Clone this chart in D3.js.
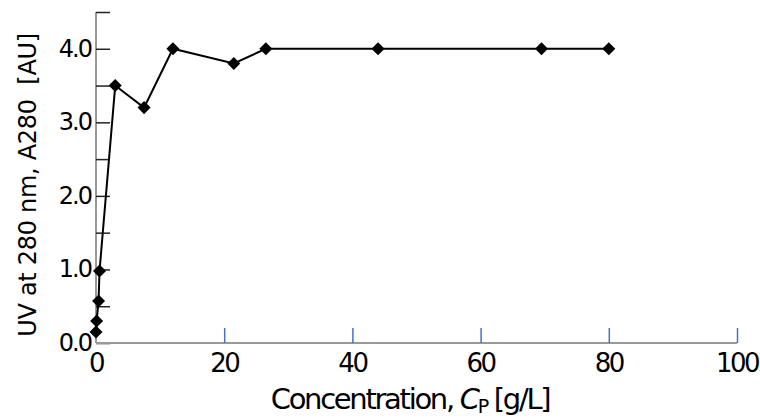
<!DOCTYPE html>
<html>
<head>
<meta charset="utf-8">
<script src="https://cdn.jsdelivr.net/npm/d3@7"></script>
<style>
  body { margin: 0; background: #fff; }
  text { font-family: "DejaVu Sans", Verdana, sans-serif; fill: #000; }
</style>
</head>
<body>
<svg width="760" height="419"></svg>
<script>
const width = 760;
const height = 419;

// concentration Cp [g/L] and absorbance A280 [AU]
const conc = [0, 0.1, 0.4, 0.55, 3, 7.5, 12, 21.5, 26.5, 44, 69.5, 80];
const uv = [0.15, 0.3, 0.57, 0.98, 3.5, 3.2, 4.0, 3.8, 4.0, 4.0, 4.0, 4.0];
const xTicks = [0, 20, 40, 60, 80, 100];
const yTicks = [0, 0.5, 1, 1.5, 2, 2.5, 3, 3.5, 4, 4.5];
const yLabels = [0, 1, 2, 3, 4];

const points = conc.map((c, i) => ({ x: c, y: uv[i] }));

const x = d3.scaleLinear().domain([0, 100]).range([96, 737]);
const y = d3.scaleLinear().domain([0, 4.5]).range([343, 12]);

const svg = d3.select("svg");

// y axis: grey line, black inward ticks
const yAxis = svg.append("g")
  .attr("transform", `translate(${x(0)},0)`)
  .call(d3.axisRight(y)
    .tickValues(yTicks)
    .tickSize(14)
    .tickFormat("")
  );
yAxis.select(".domain").attr("stroke", "#999").attr("stroke-width", 2).attr("d", `M0,${y(4.5)}V${y(0)}`);
yAxis.selectAll(".tick line").attr("stroke", "#222").attr("stroke-width", 1.5);

svg.append("g")
  .selectAll("text")
  .data(yLabels)
  .join("text")
  .attr("x", 91)
  .attr("y", d => y(d) + 8)
  .attr("text-anchor", "end")
  .attr("font-size", 24)
  .attr("letter-spacing", -2)
  .text(d => d.toFixed(1));

// x axis: grey line, blue inward ticks
const xAxis = svg.append("g")
  .attr("transform", `translate(0,${y(0)})`)
  .call(d3.axisTop(x)
    .tickValues(xTicks.filter(d => d > 0))
    .tickSize(15)
    .tickFormat("")
  );
xAxis.select(".domain").attr("stroke", "#999").attr("stroke-width", 2).attr("d", `M${x(0)},0H${x(100)}`);
xAxis.selectAll(".tick line").attr("stroke", "#4472c4").attr("stroke-width", 1.5);

svg.append("g")
  .selectAll("text")
  .data(xTicks)
  .join("text")
  .attr("x", d => x(d))
  .attr("y", 372)
  .attr("text-anchor", "middle")
  .attr("font-size", 26)
  .attr("letter-spacing", -2.5)
  .text(d => d);

// axis titles
const xTitle = svg.append("text")
  .attr("x", 410)
  .attr("y", 409)
  .attr("text-anchor", "middle")
  .attr("font-size", 29)
  .attr("letter-spacing", -2.3);
xTitle.append("tspan").text("Concentration, ");
xTitle.append("tspan").attr("font-style", "italic").text("C");
xTitle.append("tspan").attr("font-size", 19).attr("dy", 4).text("P");
xTitle.append("tspan").attr("dy", -4).text(" [g/L]");

svg.append("text")
  .attr("transform", "translate(36,185) rotate(-90)")
  .attr("text-anchor", "middle")
  .attr("font-size", 24)
  .attr("letter-spacing", -0.3)
  .text("UV at 280 nm, A280 \u00a0[AU]");

// data line and diamonds
const line = d3.line().x(d => x(d.x)).y(d => y(d.y));
svg.append("path")
  .datum(points)
  .attr("fill", "none")
  .attr("stroke", "#000")
  .attr("stroke-width", 2)
  .attr("d", line);

svg.append("g")
  .selectAll("path")
  .data(points)
  .join("path")
  .attr("d", d3.symbol().type(d3.symbolSquare).size(85))
  .attr("transform", d => `translate(${x(d.x)},${y(d.y)}) rotate(45)`)
  .attr("fill", "#000");
</script>
</body>
</html>
